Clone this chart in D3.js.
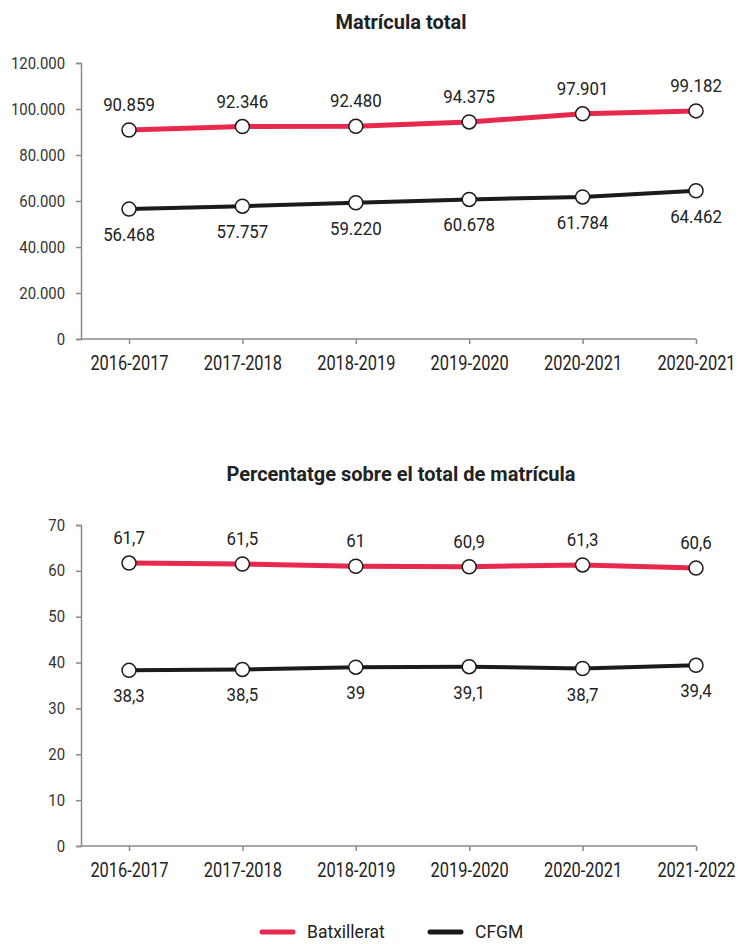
<!DOCTYPE html>
<html>
<head>
<meta charset="utf-8">
<script src="https://cdn.jsdelivr.net/npm/d3@7"></script>
<style>
body { margin: 0; background: #fff; }
text { font-family: Roboto, "Noto Sans", sans-serif; }
.narrow { transform-box: fill-box; transform-origin: center; }
</style>
</head>
<body>
<svg width="738" height="944"></svg>
<script>
// DATA
var cursosTotal = ["2016-2017", "2017-2018", "2018-2019", "2019-2020", "2020-2021", "2020-2021"];
var cursosPct = ["2016-2017", "2017-2018", "2018-2019", "2019-2020", "2020-2021", "2021-2022"];
var batxTotal = [90859, 92346, 92480, 94375, 97901, 99182];
var cfgmTotal = [56468, 57757, 59220, 60678, 61784, 64462];
var batxPct = [61.7, 61.5, 61, 60.9, 61.3, 60.6];
var cfgmPct = [38.3, 38.5, 39, 39.1, 38.7, 39.4];
var seriesNames = ["Batxillerat", "CFGM"];

var red = "#e8294e";
var black = "#1c1a1b";

var svg = d3.select("svg");

// catalan number formats
var ca = d3.formatLocale({decimal: ",", thousands: ".", grouping: [3], currency: ["", " €"]});
var fmtInt = ca.format(",d");
var fmtPct = function(v) { return ca.format(",")(v); };

// the original font is a bit condensed
function squeeze(sel, k) {
    sel.classed("narrow", true).style("transform", "scaleX(" + k + ")");
}

function drawChart(o) {
    var g = svg.append("g");

    var x = d3.scalePoint()
	.domain(d3.range(o.labels.length))
	.range([129, 696]);
    var y = d3.scaleLinear()
	.domain([0, o.yMax])
	.range([o.bottom, o.top]);

    g.append("text")
	.attr("x", 401)
	.attr("y", o.titleY)
	.attr("text-anchor", "middle")
	.attr("font-size", 20)
	.attr("font-weight", "bold")
	.attr("fill", "#222")
	.text(o.title);

    // y axis
    var yAx = g.append("g")
	.attr("transform", "translate(81,0)")
	.call(d3.axisLeft(y)
	      .tickValues(d3.range(0, o.yMax + 1, o.yStep))
	      .tickFormat(o.tickFmt)
	      .tickSize(5)
	      .tickPadding(11));
    yAx.selectAll("text").attr("font-size", 16).attr("fill", "#333").style("font-family", "Roboto")
	.style("transform-box", "fill-box").style("transform-origin", "right center").style("transform", "scaleX(0.93)");

    // x axis
    var xAx = g.append("g")
	.attr("transform", "translate(0," + o.bottom + ")")
	.call(d3.axisBottom(x)
	      .tickFormat(function(i) { return o.labels[i]; })
	      .tickSize(5)
	      .tickPadding(12));
    xAx.select(".domain").remove();
    xAx.append("line")
	.attr("x1", 81).attr("x2", x(o.labels.length - 1));
    xAx.selectAll("text").attr("font-size", 20).attr("fill", "#222").style("font-family", "Roboto")
	.call(squeeze, 0.82);

    g.selectAll(".domain, .tick line, g > line")
	.attr("stroke", "#8a8a8a")
	.attr("stroke-width", 1.5);

    var line = d3.line()
	.x(function(d, i) { return x(i); })
	.y(function(d) { return y(d); });

    var series = [
	{vals: o.a, color: red, w: 5, dy: -19},
	{vals: o.b, color: black, w: 4, dy: 32}
    ];

    series.forEach(function(s) {
	g.append("path")
	    .datum(s.vals)
	    .attr("fill", "none")
	    .attr("stroke", s.color)
	    .attr("stroke-width", s.w)
	    .attr("d", line);

	g.selectAll(null)
	    .data(s.vals)
	    .enter().append("circle")
	    .attr("cx", function(d, i) { return x(i); })
	    .attr("cy", function(d) { return y(d); })
	    .attr("r", 7)
	    .attr("fill", "#fff")
	    .attr("stroke", "#1c1a1b")
	    .attr("stroke-width", 1.5);

	g.selectAll(null)
	    .data(s.vals)
	    .enter().append("text")
	    .attr("x", function(d, i) { return x(i); })
	    .attr("y", function(d) { return y(d) + s.dy; })
	    .attr("text-anchor", "middle")
	    .attr("font-size", 18.5)
	    .attr("fill", "#222")
	    .text(o.valFmt)
	    .call(squeeze, 0.91);
    });
}

drawChart({
    title: "Matrícula total", titleY: 29,
    labels: cursosTotal, a: batxTotal, b: cfgmTotal,
    yMax: 120000, yStep: 20000, top: 63, bottom: 339,
    tickFmt: fmtInt, valFmt: fmtInt
});

drawChart({
    title: "Percentatge sobre el total de matrícula", titleY: 481,
    labels: cursosPct, a: batxPct, b: cfgmPct,
    yMax: 70, yStep: 10, top: 525, bottom: 846,
    tickFmt: fmtInt, valFmt: fmtPct
});

// LEGEND
var legend = svg.append("g").attr("transform", "translate(0,932)");
var legItems = legend.selectAll("g")
    .data(seriesNames)
    .enter().append("g")
    .attr("transform", function(d, i) { return "translate(" + (262 + i * 168) + ",0)"; });
legItems.append("line")
    .attr("x1", 0).attr("x2", 31)
    .attr("stroke", function(d, i) { return i == 0 ? red : black; })
    .attr("stroke-width", 5)
    .attr("stroke-linecap", "round");
legItems.append("text")
    .attr("x", 45)
    .attr("y", 6)
    .attr("font-size", 17.5)
    .attr("fill", "#222")
    .text(function(d) { return d; });
</script>
</body>
</html>
